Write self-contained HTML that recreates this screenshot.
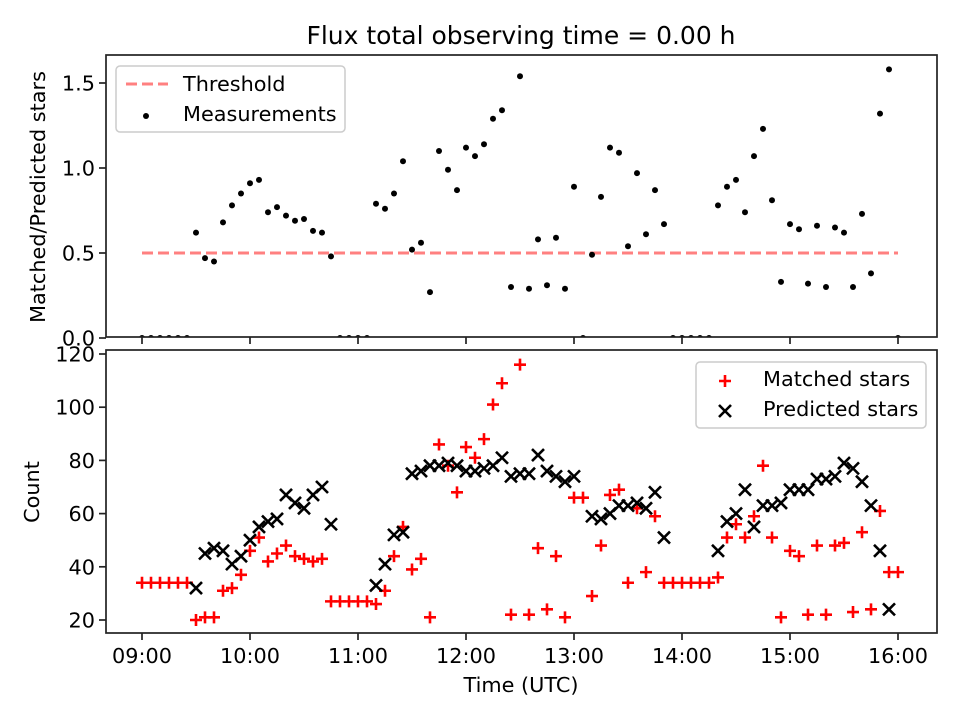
<!DOCTYPE html>
<html><head><meta charset="utf-8"><style>
html,body{margin:0;padding:0;background:#fff;}
svg{display:block;font-family:"DejaVu Sans","Liberation Sans",sans-serif;}
</style></head><body>
<svg id="chart" width="960" height="720" viewBox="0 0 960 720">
<defs>
<clipPath id="clipTop"><rect x="106" y="55" width="831" height="282"/></clipPath>
<clipPath id="clipBot"><rect x="106" y="350" width="831" height="283"/></clipPath>
</defs>
<rect width="960" height="720" fill="#fff"/>
<text x="521" y="44" text-anchor="middle" font-size="25">Flux total observing time = 0.00 h</text>
<g id="topPanel"></g>
<g id="botPanel"></g>
</svg>
<script>
const timeLabels = ["09:00","10:00","11:00","12:00","13:00","14:00","15:00","16:00"];
const ratioTicks = [0, 0.5, 1.0, 1.5];
const countTicks = [20, 40, 60, 80, 100, 120];
const threshold = 0.5;
const ratio = [0,0,0,0,0,0,
 .62,.47,.45,.68,.78,.85,.91,.93,.74,.77,.72,.69,.70,.63,.62,.48,
 0,0,0,0,
 .79,.76,.85,1.04,
 .52,.56,.27,1.10,.99,.87,1.12,1.07,1.14,1.29,1.34,.30,1.54,.29,.58,.31,.59,.29,.89,
 0,
 .49,.83,1.12,1.09,.54,.97,.61,.87,.67,
 0,0,0,0,0,
 .78,.89,.93,.74,1.07,1.23,.81,.33,.67,.64,.32,.66,.30,.65,.62,.30,.73,.38,1.32,1.58,
 0];
const matched = [34,34,34,34,34,34,
 20,21,21,
 31,32,37,46,51,42,45,48,44,43,42,43,
 27,27,27,27,27,
 26,31,44,55,
 39,43,21,
 86,78,68,85,81,88,101,109,22,116,22,47,24,44,21,66,
 66,
 29,48,67,69,34,62,38,59,34,
 34,34,34,34,34,
 36,51,56,51,59,78,51,21,46,44,22,48,22,48,49,23,53,24,61,38,38];
const predicted = [null,null,null,null,null,null,
 32,45,47,46,41,44,50,55,57,58,67,64,62,67,70,56,
 null,null,null,null,
 33,41,52,53,
 75,76,78,78,79,78,76,76,77,78,81,74,75,75,82,76,74,72,74,
 null,
 59,58,60,63,63,64,62,68,51,
 null,null,null,null,null,
 46,57,60,69,55,63,63,64,69,69,69,73,73,74,79,77,72,63,46,24,
 null];
const stepMinutes = 5;

const NS = "http://www.w3.org/2000/svg";
function mk(parent, tag, attrs){ const e=document.createElementNS(NS,tag); for(const k in attrs) e.setAttribute(k,attrs[k]); parent.appendChild(e); return e; }
const L=106,R=937;
const FS=20.8;
const xOfMin = m => 142 + m*(108/60);
const xOfIdx = i => xOfMin(i*stepMinutes);
const yTop = v => 338 - v*170;
const yBot = v => 620 - (v-20)*2.66;

const topG = document.getElementById('topPanel');
const botG = document.getElementById('botPanel');

function axes(g, y0, y1, name){
  const r = mk(g,'rect',{x:L,y:y0,width:R-L,height:y1-y0,fill:'none',stroke:'#222','stroke-width':1.7});
  
  
}

// threshold
const th=mk(topG,'line',{x1:xOfIdx(0),x2:xOfIdx(ratio.length-1),y1:yTop(threshold),y2:yTop(threshold),stroke:'#ff8080','stroke-width':3,'stroke-dasharray':'11,5'});



// ratio points
const tg=mk(topG,'g',{'clip-path':'url(#clipTop)'});
ratio.forEach((v,i)=>{
  const c=mk(tg,'circle',{cx:xOfIdx(i),cy:yTop(v),r:3,fill:'#000'});
  
  
});

// bottom points
const bg=mk(botG,'g',{'clip-path':'url(#clipBot)'});
function plus(g,x,y,s){ return mk(g,'path',{d:`M${x-s} ${y}H${x+s}M${x} ${y-s}V${y+s}`,stroke:'#ff0000','stroke-width':2.6,fill:'none'}); }
function cross(g,x,y,s){ return mk(g,'path',{d:`M${x-s} ${y-s}L${x+s} ${y+s}M${x-s} ${y+s}L${x+s} ${y-s}`,stroke:'#000','stroke-width':2.6,fill:'none'}); }
matched.forEach((v,i)=>{
  const p=plus(bg,xOfIdx(i),yBot(v),6);
  
  
});
predicted.forEach((v,i)=>{
  if(v===null) return;
  const p=cross(bg,xOfIdx(i),yBot(v),6);
  
  
});

axes(topG,55,337,'ratio-axes-frame');
axes(botG,350,633,'count-axes-frame');

// x ticks
timeLabels.forEach((t,i)=>{
  const x = xOfMin(i*60);
  const a = mk(topG,'line',{x1:x,x2:x,y1:337,y2:344,stroke:'#222','stroke-width':1.7});
  
  
  const b = mk(botG,'line',{x1:x,x2:x,y1:633,y2:640,stroke:'#222','stroke-width':1.7});
  
  
  const tx = mk(botG,'text',{x:x,y:663,'text-anchor':'middle','font-size':FS});
  tx.textContent = t;
  
  
});
const xt = mk(botG,'text',{x:521,y:692,'text-anchor':'middle','font-size':FS});
xt.textContent='Time (UTC)';



// y ticks
ratioTicks.forEach(v=>{
  const y=yTop(v);
  const l=mk(topG,'line',{x1:L-7,x2:L,y1:y,y2:y,stroke:'#222','stroke-width':1.7});
  
  
  const t=mk(topG,'text',{x:L-11,y:y+7.5,'text-anchor':'end','font-size':FS});
  t.textContent=v.toFixed(1);
  
  
});
countTicks.forEach(v=>{
  const y=yBot(v);
  const l=mk(botG,'line',{x1:L-7,x2:L,y1:y,y2:y,stroke:'#222','stroke-width':1.7});
  
  
  const t=mk(botG,'text',{x:L-11,y:y+7.5,'text-anchor':'end','font-size':FS});
  t.textContent=String(v);
  
  
});
const yt1=mk(topG,'text',{x:0,y:0,'text-anchor':'middle','font-size':FS,transform:'translate(45,197) rotate(-90)'});
yt1.textContent='Matched/Predicted stars';


const yt2=mk(botG,'text',{x:0,y:0,'text-anchor':'middle','font-size':FS,transform:'translate(39,492) rotate(-90)'});
yt2.textContent='Count';



// legends
const lg1=mk(topG,'g',{});


mk(lg1,'rect',{x:116,y:66,width:229,height:66,rx:4,fill:'#fff','fill-opacity':0.8,stroke:'#ccc','stroke-width':1.5});
const le1=mk(lg1,'line',{x1:126,x2:168,y1:84,y2:84,stroke:'#ff8080','stroke-width':3,'stroke-dasharray':'11,5'});


const lt1=mk(lg1,'text',{x:183,y:91,'font-size':FS}); lt1.textContent='Threshold';


mk(lg1,'circle',{cx:146,cy:116,r:3,fill:'#000'});
const lt2=mk(lg1,'text',{x:183,y:121,'font-size':FS}); lt2.textContent='Measurements';



const lg2=mk(botG,'g',{});


mk(lg2,'rect',{x:696,y:362,width:230,height:66,rx:4,fill:'#fff','fill-opacity':0.8,stroke:'#ccc','stroke-width':1.5});
plus(lg2,725,381,6);
const lt3=mk(lg2,'text',{x:763,y:386,'font-size':FS}); lt3.textContent='Matched stars';


cross(lg2,725,411,6);
const lt4=mk(lg2,'text',{x:763,y:416,'font-size':FS}); lt4.textContent='Predicted stars';


</script>
</body></html>
